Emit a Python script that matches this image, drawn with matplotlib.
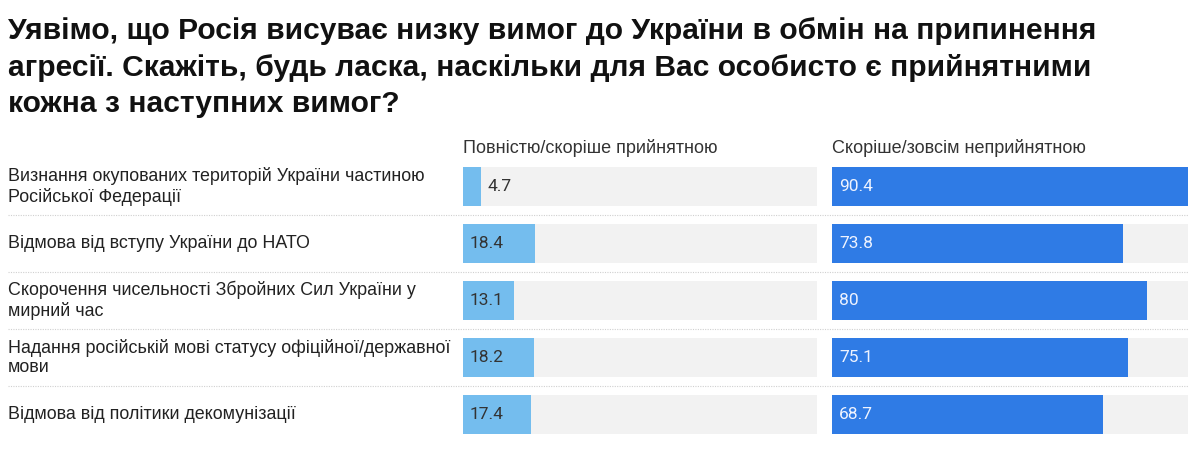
import matplotlib.pyplot as plt
from matplotlib.transforms import blended_transform_factory

plt.rcParams['font.family'] = ['Liberation Sans', 'DejaVu Sans']

title = ('Уявімо, що Росія висуває низку вимог до України в обмін на припинення\n'
         'агресії. Скажіть, будь ласка, наскільки для Вас особисто є прийнятними\n'
         'кожна з наступних вимог?')

categories = [
    'Визнання окупованих територій України частиною\nРосійської Федерації',
    'Відмова від вступу України до НАТО',
    'Скорочення чисельності Збройних Сил України у\nмирний час',
    'Надання російській мові статусу офіційної/державної\nмови',
    'Відмова від політики декомунізації',
]
acceptable = [4.7, 18.4, 13.1, 18.2, 17.4]
unacceptable = [90.4, 73.8, 80, 75.1, 68.7]
headers = ['Повністю/скоріше прийнятною', 'Скоріше/зовсім неприйнятною']

W, H = 1200, 450
fig = plt.figure(figsize=(12, 4.5), dpi=100)


def px_axes(x0, x1, y0, y1):
    # pixel box (top-left origin) -> figure axes
    return fig.add_axes([x0 / W, 1 - y1 / H, (x1 - x0) / W, (y1 - y0) / H])


n = len(categories)
bar_h = 0.684
vmax = max(max(acceptable), max(unacceptable))
px = vmax / 355  # one pixel in data units

ax1 = px_axes(463, 817, 167, 434)
ax2 = px_axes(832, 1188, 167, 434)

for ax, vals, color, txtcolor, head in [
        (ax1, acceptable, '#74bdee', '#333333', headers[0]),
        (ax2, unacceptable, '#2f7be5', '#eef3ff', headers[1])]:
    y = range(n)
    ax.barh(y, [vmax] * n, height=bar_h, color='#f2f2f2')
    ax.barh(y, vals, height=bar_h, color=color)
    for i, v in enumerate(vals):
        # small bars get their label just past the bar end
        if v < 36 * px:
            ax.text(v + 6 * px, i, f'{v:g}', va='center', ha='left',
                    fontsize=12.5, family='Roboto', color='#333333')
        else:
            ax.text(7 * px, i, f'{v:g}', va='center', ha='left',
                    fontsize=12.5, family='Roboto', color=txtcolor)
    ax.set_xlim(0, vmax)
    ax.set_ylim(n - 1 + bar_h / 2, -bar_h / 2)
    ax.axis('off')
    ax.text(0, -0.68, head, va='center', ha='left', fontsize=13,
            color='#333333')

# category labels and dotted separators
tr = blended_transform_factory(fig.transFigure, ax1.transData)
for i, cat in enumerate(categories):
    fig.text(8 / W, i, cat, transform=tr, va='center', ha='left',
             fontsize=12.9, color='#222222', linespacing=1.18)
    if i < n - 1:
        ax1.plot([8 / W, 1188 / W], [i + 0.5, i + 0.5], transform=tr,
                 color='#d0d0d0', lw=0.8, ls=(0, (1, 1.2)), clip_on=False)

fig.text(8 / W, 1 - 17 / H, title, va='top', ha='left', fontsize=21.6,
         fontweight='bold', color='#111111', linespacing=1.39)

fig.savefig('out.png', dpi=100, facecolor='white')
